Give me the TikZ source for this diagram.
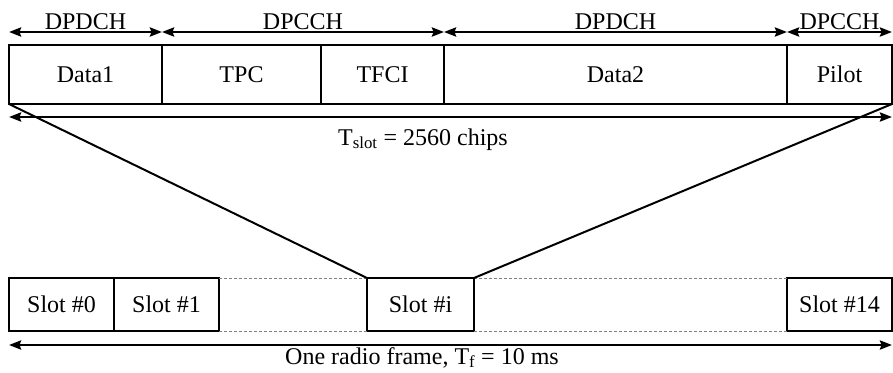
\documentclass[tikz,border=0pt]{standalone}
\usepackage{fontspec}
\setmainfont{Liberation Serif}
\usetikzlibrary{arrows.meta}
\begin{document}
\begin{tikzpicture}[x=1pt,y=-1pt,
  txt/.style={font=\fontsize{24}{28}\selectfont},
  topbox/.style={txt, draw, line width=1.6pt, minimum height=59pt, inner sep=0pt, outer sep=0pt, anchor=north west},
  slotbox/.style={txt, draw, line width=1.6pt, minimum height=53pt, inner sep=0pt, outer sep=0pt, anchor=north west},
  dbl/.style={{Stealth[length=12pt,width=9pt,inset=1.5pt]}-{Stealth[length=12pt,width=9pt,inset=1.5pt]}, line width=2.6pt},
  lab/.style={txt, midway, above, inner sep=0pt, yshift=1pt},
  slant/.style={line width=2pt},
  gapline/.style={draw=black!50, line width=1pt, dash pattern=on 3pt off 2pt}]
\useasboundingbox (0,0) rectangle (893,372);
% top slot structure
\node[topbox, minimum width=153pt] (d1) at (9,45) {Data1};
\node[topbox, minimum width=159pt] (tpc) at (162,45) {TPC};
\node[topbox, minimum width=123pt] (tfci) at (321,45) {TFCI};
\node[topbox, minimum width=343pt] (d2) at (444,45) {Data2};
\node[topbox, minimum width=105pt] (pilot) at (787,45) {Pilot};
% channel arrows
\draw[dbl] ([yshift=13pt]d1.north west) -- ([yshift=13pt]d1.north east) node[lab] {DPDCH};
\draw[dbl] ([yshift=13pt]tpc.north west) -- ([yshift=13pt]tfci.north east) node[lab] {DPCCH};
\draw[dbl] ([yshift=13pt]d2.north west) -- ([yshift=13pt]d2.north east) node[lab] {DPDCH};
\draw[dbl] ([yshift=13pt]pilot.north west) -- ([yshift=13pt]pilot.north east) node[lab] {DPCCH};
% slot length
\draw[dbl] ([yshift=-13pt]d1.south west) -- ([yshift=-13pt]pilot.south east);
\node[txt, anchor=base] (tslot) at (423,145) {T\textsubscript{slot} = 2560 chips};
% frame
\node[slotbox, minimum width=105pt] (s0) at (9,278) {Slot \#0};
\node[slotbox, minimum width=105pt] (s1) at (114,278) {Slot \#1};
\node[slotbox, minimum width=107pt] (si) at (367,278) {Slot \#i};
\node[slotbox, minimum width=105pt] (s14) at (787,278) {Slot \#14};
\draw[gapline] (s1.north east) -- (si.north west);
\draw[gapline] (s1.south east) -- (si.south west);
\draw[gapline] (si.north east) -- (s14.north west);
\draw[gapline] (si.south east) -- (s14.south west);
% expansion lines
\draw[slant] (d1.south west) -- (si.north west);
\draw[slant] (pilot.south east) -- (si.north east);
% frame length
\draw[dbl] ([yshift=-14pt]s0.south west) -- ([yshift=-14pt]s14.south east);
\node[txt, anchor=base] (tf) at (422,364) {One radio frame, T\textsubscript{f} = 10 ms};
\end{tikzpicture}
\end{document}
